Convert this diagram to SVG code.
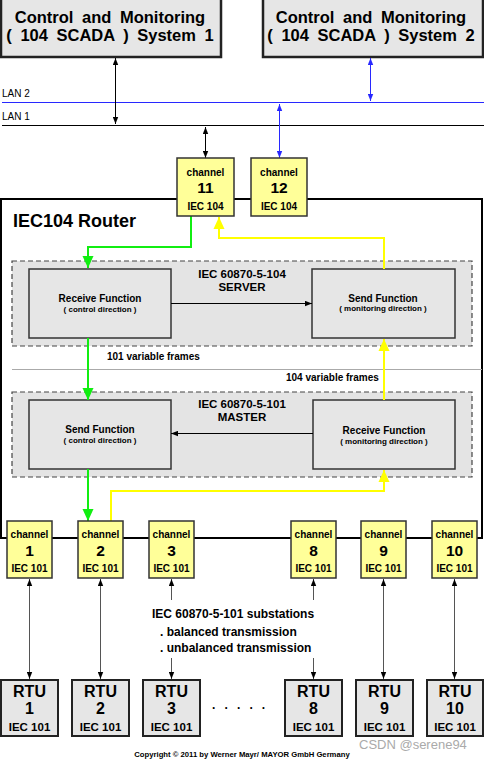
<svg xmlns="http://www.w3.org/2000/svg" width="484" height="760" viewBox="0 0 484 760">
<style>
text{font-family:"Liberation Sans",Arial,sans-serif;font-weight:bold;fill:#000}
.sys{font-size:16.5px;word-spacing:4px;text-anchor:middle}
.sysbox{fill:#e6e6e6;stroke:#222;stroke-width:2.5}
.chbox{fill:#ffff99;stroke:#333;stroke-width:1.5}
.rtubox{fill:#e6e6e6;stroke:#222;stroke-width:2}
.fbox{fill:#e6e6e6;stroke:#333;stroke-width:1.5}
.dash{fill:#e4e4e4;stroke:#444;stroke-width:1.2;stroke-dasharray:5,3}
.c1{font-size:10px;text-anchor:middle}
.cn{font-size:15.5px;text-anchor:middle}
.rt{font-size:16px;text-anchor:middle}
.ri{font-size:11.5px;text-anchor:middle}
.ft{font-size:10px;text-anchor:middle}
.fs{font-size:8px;text-anchor:middle}
.hd{font-size:11.5px;text-anchor:middle}
.lbl{font-size:10px}
.lan{font-size:10px;font-weight:normal}
.ln{fill:none;stroke:#000;stroke-width:1}
.lg{fill:none;stroke:#555;stroke-width:1}
.lb{fill:none;stroke:#2828ff;stroke-width:1}
.gr{fill:none;stroke:#11ee11;stroke-width:2}
.ye{fill:none;stroke:#ffff00;stroke-width:2}
</style>
<defs>
<marker id="ak" markerUnits="userSpaceOnUse" markerWidth="7" markerHeight="6" refX="7" refY="3" orient="auto-start-reverse"><path d="M0,0.3 L7,3 L0,5.7 z" fill="#000"/></marker>
<marker id="ab" markerUnits="userSpaceOnUse" markerWidth="7" markerHeight="6" refX="7" refY="3" orient="auto-start-reverse"><path d="M0,0.3 L7,3 L0,5.7 z" fill="#2828ff"/></marker>
<marker id="ag" markerUnits="userSpaceOnUse" markerWidth="12" markerHeight="12" refX="12" refY="6" orient="auto"><path d="M0,0.5 L12,6 L0,11.5 z" fill="#11ee11"/></marker>
<marker id="ay" markerUnits="userSpaceOnUse" markerWidth="12" markerHeight="12" refX="12" refY="6" orient="auto"><path d="M0,0.5 L12,6 L0,11.5 z" fill="#ffff00"/></marker>
</defs>

<g id="sys1"><rect class="sysbox" x="1" y="-2" width="220" height="59"/>
<text class="sys" x="110" y="23">Control and Monitoring</text>
<text class="sys" x="110" y="41">( 104 SCADA ) System 1</text></g>
<g id="sys2"><rect class="sysbox" x="263" y="-2" width="220" height="59"/>
<text class="sys" x="371" y="23">Control and Monitoring</text>
<text class="sys" x="371" y="41">( 104 SCADA ) System 2</text></g>

<g id="lan2"><line x1="2" y1="102.5" x2="484" y2="102.5" stroke="#2828ff" stroke-width="1"/><text class="lan" x="2" y="97">LAN 2</text></g>
<g id="lan1"><line x1="2" y1="125.5" x2="484" y2="125.5" stroke="#000" stroke-width="1"/><text class="lan" x="2" y="120">LAN 1</text></g>

<g id="router"><rect x="1" y="199" width="481" height="339" fill="#fff" stroke="#000" stroke-width="2"/>
<text x="13" y="227" font-size="18px">IEC104 Router</text>
<line x1="12" y1="369.5" x2="482" y2="369.5" stroke="#aaa" stroke-width="1"/>
<text class="lbl" x="107" y="360">101 variable frames</text>
<text class="lbl" x="286" y="381">104 variable frames</text></g>

<g id="server"><rect class="dash" x="12" y="261" width="460" height="85"/>
<text class="hd" x="242" y="278">IEC 60870-5-104</text>
<text class="hd" x="242" y="291">SERVER</text></g>
<g id="srv-recv"><rect class="fbox" x="29" y="269" width="142" height="69"/>
<text class="ft" x="100" y="302">Receive Function</text><text class="fs" x="100" y="312">( control direction )</text></g>
<g id="srv-send"><rect class="fbox" x="312" y="269" width="143" height="69"/>
<text class="ft" x="383" y="302">Send Function</text><text class="fs" x="383" y="311">( monitoring direction )</text></g>

<g id="master"><rect class="dash" x="12" y="392" width="460" height="85"/>
<text class="hd" x="242" y="408">IEC 60870-5-101</text>
<text class="hd" x="242" y="421">MASTER</text></g>
<g id="mst-send"><rect class="fbox" x="29" y="400" width="142" height="69"/>
<text class="ft" x="100" y="433">Send Function</text><text class="fs" x="100" y="443">( control direction )</text></g>
<g id="mst-recv"><rect class="fbox" x="313" y="400" width="142" height="69"/>
<text class="ft" x="384" y="434">Receive Function</text><text class="fs" x="384" y="444">( monitoring direction )</text></g>

<g id="connectors">
<line class="ln" x1="115.5" y1="58" x2="115.5" y2="124" marker-start="url(#ak)" marker-end="url(#ak)"/>
<line class="lb" x1="370.5" y1="58" x2="370.5" y2="101" marker-start="url(#ab)" marker-end="url(#ab)"/>
<line class="ln" x1="205.5" y1="127" x2="205.5" y2="158" marker-start="url(#ak)" marker-end="url(#ak)"/>
<line class="lb" x1="279.5" y1="104" x2="279.5" y2="158" marker-start="url(#ab)" marker-end="url(#ab)"/>
<path class="gr" d="M191,216 V247 H88 V268" marker-end="url(#ag)"/>
<path class="ye" d="M384,269 V238 H219 V217" marker-end="url(#ay)"/>
<line class="ln" x1="171" y1="303.5" x2="312" y2="303.5" marker-end="url(#ak)"/>
<line class="gr" x1="88" y1="338" x2="88" y2="400" marker-end="url(#ag)"/>
<line class="ye" x1="384" y1="400" x2="384" y2="339" marker-end="url(#ay)"/>
<line class="ln" x1="313" y1="433.5" x2="171" y2="433.5" marker-end="url(#ak)"/>
<line class="gr" x1="88" y1="469" x2="88" y2="521" marker-end="url(#ag)"/>
<path class="ye" d="M111,521 V491 H384 V470" marker-end="url(#ay)"/>
<line class="lg" x1="29.5" y1="579" x2="29.5" y2="679" marker-start="url(#ak)" marker-end="url(#ak)"/>
<line class="lg" x1="100.5" y1="579" x2="100.5" y2="679" marker-start="url(#ak)" marker-end="url(#ak)"/>
<line class="lg" x1="171.5" y1="579" x2="171.5" y2="600" marker-start="url(#ak)"/>
<line class="lg" x1="171.5" y1="658" x2="171.5" y2="679" marker-end="url(#ak)"/>
<line class="lg" x1="313.5" y1="579" x2="313.5" y2="600" marker-start="url(#ak)"/>
<line class="lg" x1="313.5" y1="658" x2="313.5" y2="679" marker-end="url(#ak)"/>
<line class="lg" x1="383.5" y1="579" x2="383.5" y2="679" marker-start="url(#ak)" marker-end="url(#ak)"/>
<line class="lg" x1="454.5" y1="579" x2="454.5" y2="679" marker-start="url(#ak)" marker-end="url(#ak)"/>
</g>

<g id="ch11"><rect class="chbox" x="177" y="158" width="57" height="58"/>
<text class="c1" x="205.5" y="176">channel</text><text class="cn" x="205.5" y="193">11</text><text class="c1" x="205.5" y="210">IEC 104</text></g>
<g id="ch12"><rect class="chbox" x="251" y="158" width="56" height="58"/>
<text class="c1" x="279" y="176">channel</text><text class="cn" x="279" y="193">12</text><text class="c1" x="279" y="210">IEC 104</text></g>

<g id="ch1"><rect class="chbox" x="7" y="521" width="45" height="57"/>
<text class="c1" x="29.5" y="538">channel</text><text class="cn" x="29.5" y="556">1</text><text class="c1" x="29.5" y="572">IEC 101</text></g>
<g id="ch2"><rect class="chbox" x="78" y="521" width="45" height="57"/>
<text class="c1" x="100.5" y="538">channel</text><text class="cn" x="100.5" y="556">2</text><text class="c1" x="100.5" y="572">IEC 101</text></g>
<g id="ch3"><rect class="chbox" x="149" y="521" width="45" height="57"/>
<text class="c1" x="171.5" y="538">channel</text><text class="cn" x="171.5" y="556">3</text><text class="c1" x="171.5" y="572">IEC 101</text></g>
<g id="ch8"><rect class="chbox" x="291" y="521" width="45" height="57"/>
<text class="c1" x="313.5" y="538">channel</text><text class="cn" x="313.5" y="556">8</text><text class="c1" x="313.5" y="572">IEC 101</text></g>
<g id="ch9"><rect class="chbox" x="361" y="521" width="45" height="57"/>
<text class="c1" x="383.5" y="538">channel</text><text class="cn" x="383.5" y="556">9</text><text class="c1" x="383.5" y="572">IEC 101</text></g>
<g id="ch10"><rect class="chbox" x="432" y="521" width="45" height="57"/>
<text class="c1" x="454.5" y="538">channel</text><text class="cn" x="454.5" y="556">10</text><text class="c1" x="454.5" y="572">IEC 101</text></g>

<g id="substations"><text x="152" y="618" font-size="12px">IEC 60870-5-101 substations</text>
<text x="160" y="636" font-size="12px">. balanced transmission</text>
<text x="160" y="652" font-size="12px">. unbalanced transmission</text></g>

<g id="rtu1"><rect class="rtubox" x="1" y="680" width="57" height="56"/>
<text class="rt" x="29.5" y="697">RTU</text><text class="rt" x="29.5" y="714">1</text><text class="ri" x="29.5" y="731">IEC 101</text></g>
<g id="rtu2"><rect class="rtubox" x="72" y="680" width="57" height="56"/>
<text class="rt" x="100.5" y="697">RTU</text><text class="rt" x="100.5" y="714">2</text><text class="ri" x="100.5" y="731">IEC 101</text></g>
<g id="rtu3"><rect class="rtubox" x="143" y="680" width="57" height="56"/>
<text class="rt" x="171.5" y="697">RTU</text><text class="rt" x="171.5" y="714">3</text><text class="ri" x="171.5" y="731">IEC 101</text></g>
<g id="rtu8"><rect class="rtubox" x="285" y="680" width="57" height="56"/>
<text class="rt" x="313.5" y="697">RTU</text><text class="rt" x="313.5" y="714">8</text><text class="ri" x="313.5" y="731">IEC 101</text></g>
<g id="rtu9"><rect class="rtubox" x="356" y="680" width="57" height="56"/>
<text class="rt" x="384.5" y="697">RTU</text><text class="rt" x="384.5" y="714">9</text><text class="ri" x="384.5" y="731">IEC 101</text></g>
<g id="rtu10"><rect class="rtubox" x="427" y="680" width="56" height="56"/>
<text class="rt" x="455" y="697">RTU</text><text class="rt" x="455" y="714">10</text><text class="ri" x="455" y="731">IEC 101</text></g>

<text x="212" y="709" font-size="12px" letter-spacing="2.9">. . . . .</text>
<text x="359" y="749" font-size="13px" style="fill:#aaa;font-weight:normal">CSDN @serene94</text>
<text x="242" y="757" font-size="7.7px" text-anchor="middle">Copyright © 2011 by Werner Mayr/ MAYOR GmbH Germany</text>
</svg>
